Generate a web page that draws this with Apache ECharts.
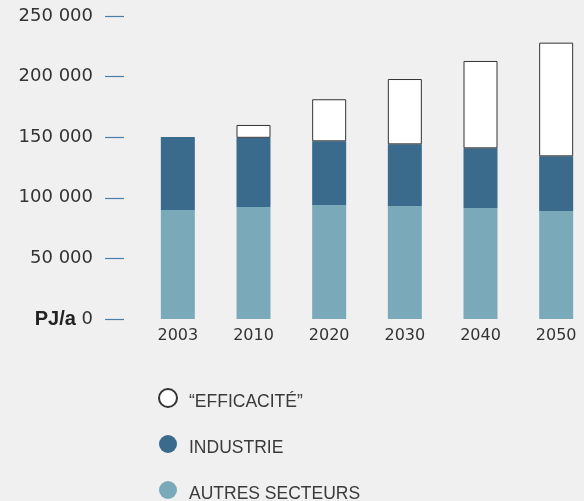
<!DOCTYPE html>
<html>
<head>
<meta charset="utf-8">
<script src="https://cdn.jsdelivr.net/npm/echarts@6/dist/echarts.min.js"></script>
<style>
  html, body { margin: 0; padding: 0; background: #f0f0f0; }
  #chart { width: 584px; height: 501px; }
</style>
</head>
<body>
<div id="chart"></div>
<script>
// values in PJ/a
const years = ["2003", "2010", "2020", "2030", "2040", "2050"];
const autresSecteurs = [90000, 92400, 94000, 93200, 91600, 89100];
const industrie = [60200, 57100, 52600, 50900, 49200, 45100];
const efficacite = ["-", 10600, 34700, 53900, 72100, 93800];
const yTicks = [0, 50000, 100000, 150000, 200000, 250000];

const names = ["\u201CEFFICACIT\u00C9\u201D", "INDUSTRIE", "AUTRES SECTEURS"];

const chart = echarts.init(document.getElementById("chart"));

function fmt(v) {
  return String(v).replace(/\B(?=(\d{3})+(?!\d))/g, " ");
}

chart.setOption({
  backgroundColor: "#f0f0f0",
  animation: false,
  grid: {
    left: 140,
    width: 454,
    top: 16,
    height: 303,
    containLabel: false,
    outerBoundsMode: "none",
  },
  legend: {
    orient: "vertical",
    left: 158,
    top: 388,
    width: 300,
    height: 140,
    padding: 0,
    itemWidth: 18,
    itemHeight: 18,
    itemGap: 23.5,
    icon: "circle",
    data: names,
    formatter: function (name) {
      return "{t|" + name + "}";
    },
    textStyle: {
      fontFamily: "Liberation Sans",
      fontSize: 17.5,
      color: "#3a3a3a",
      rich: {
        t: {
          fontFamily: "Liberation Sans",
          fontSize: 17.5,
          color: "#3a3a3a",
          lineHeight: 27,
          verticalAlign: "bottom",
          padding: [0, 0, 0, 7],
        },
      },
    },
  },
  xAxis: {
    type: "category",
    data: years,
    axisLine: { show: false },
    axisTick: { show: false },
    axisLabel: {
      color: "#333",
      fontFamily: "DejaVu Sans",
      fontSize: 16,
      margin: 9,
    },
  },
  yAxis: {
    type: "value",
    min: yTicks[0],
    max: yTicks[yTicks.length - 1],
    interval: 50000,
    offset: 16,
    splitLine: { show: false },
    axisLine: { show: false },
    axisTick: {
      show: true,
      length: 19,
      lineStyle: { color: "#4f7ea5", width: 1.2 },
    },
    axisLabel: {
      margin: 31,
      color: "#333",
      fontFamily: "DejaVu Sans",
      fontSize: 18,
      formatter: function (v) {
        return v === 0 ? "{b|PJ/a} 0" : fmt(v);
      },
      rich: {
        b: {
          fontFamily: "Liberation Sans",
          fontWeight: "bold",
          fontSize: 20,
          color: "#222",
        },
      },
    },
  },
  series: [
    {
      name: names[2],
      type: "bar",
      stack: "total",
      barWidth: 34,
      data: autresSecteurs,
      itemStyle: { color: "#7aaab9" },
    },
    {
      name: names[1],
      type: "bar",
      stack: "total",
      data: industrie,
      itemStyle: { color: "#3a6a8c" },
    },
    {
      name: names[0],
      type: "bar",
      stack: "total",
      data: efficacite,
      itemStyle: { color: "#ffffff", borderColor: "#333", borderWidth: 1 },
    },
  ],
});
</script>
</body>
</html>
